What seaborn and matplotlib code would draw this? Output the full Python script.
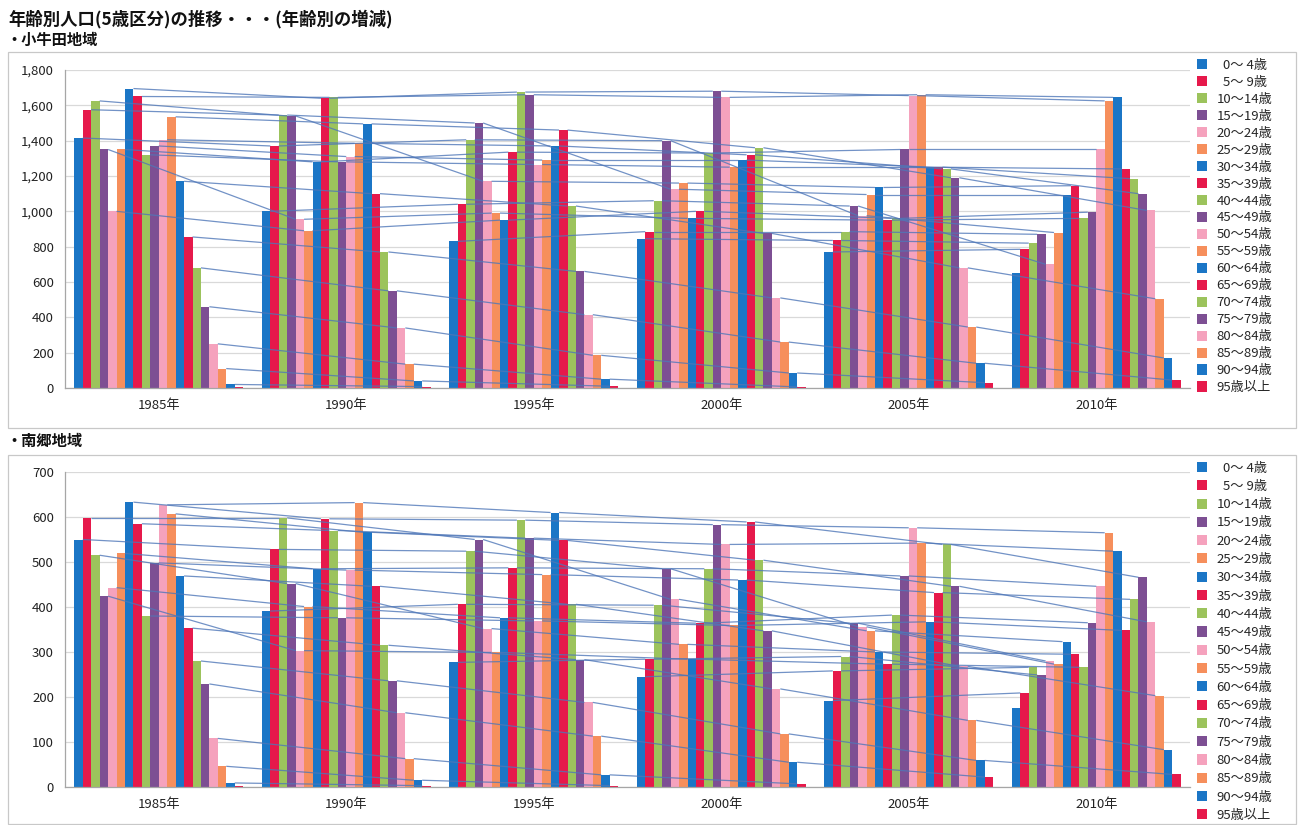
import matplotlib
matplotlib.use("Agg")
import matplotlib.pyplot as plt
from matplotlib.patches import Patch, Rectangle
from matplotlib.ticker import FuncFormatter, MultipleLocator
import pandas as pd
import seaborn as sns

# ---- data -------------------------------------------------------------
years = ["1985年", "1990年", "1995年", "2000年", "2005年", "2010年"]
age_groups = ["  0～ 4歳", "  5～ 9歳", "10～14歳", "15～19歳", "20～24歳",
              "25～29歳", "30～34歳", "35～39歳", "40～44歳", "45～49歳",
              "50～54歳", "55～59歳", "60～64歳", "65～69歳", "70～74歳",
              "75～79歳", "80～84歳", "85～89歳", "90～94歳", "95歳以上"]

# 小牛田地域 (population by 5-year age band)
kogota_1985 = [1415, 1575, 1625, 1350, 1000, 1350, 1695, 1650, 1320, 1370,
               1405, 1535, 1170, 855, 680, 460, 250, 110, 20, 4]
kogota_1990 = [1000, 1370, 1545, 1540, 955, 890, 1280, 1640, 1645, 1280,
               1310, 1385, 1495, 1100, 770, 550, 340, 135, 40, 8]
kogota_1995 = [830, 1040, 1405, 1500, 1170, 990, 950, 1335, 1675, 1660,
               1265, 1290, 1370, 1460, 1030, 660, 415, 185, 50, 10]
kogota_2000 = [845, 885, 1060, 1400, 1125, 1160, 960, 1000, 1330, 1680,
               1645, 1250, 1290, 1320, 1360, 875, 510, 260, 85, 6]
kogota_2005 = [770, 835, 885, 1030, 975, 1095, 1135, 950, 960, 1350,
               1655, 1660, 1250, 1250, 1240, 1190, 680, 345, 140, 30]
kogota_2010 = [650, 785, 820, 870, 700, 880, 1095, 1145, 960, 995,
               1350, 1625, 1645, 1240, 1185, 1100, 1005, 505, 170, 45]

# 南郷地域
nango_1985 = [550, 598, 515, 424, 443, 519, 633, 585, 380, 498,
              627, 607, 469, 353, 280, 229, 108, 46, 9, 2]
nango_1990 = [391, 528, 598, 452, 303, 401, 485, 596, 570, 376,
              482, 632, 566, 446, 315, 236, 165, 63, 15, 3]
nango_1995 = [277, 406, 524, 550, 352, 299, 376, 487, 593, 553,
              369, 472, 610, 548, 406, 283, 188, 113, 27, 3]
nango_2000 = [245, 284, 404, 485, 417, 317, 284, 364, 485, 583,
              539, 359, 460, 589, 504, 347, 218, 118, 55, 7]
nango_2005 = [192, 258, 290, 364, 356, 347, 300, 273, 382, 469,
              576, 542, 367, 432, 539, 446, 268, 148, 59, 22]
nango_2010 = [176, 209, 266, 249, 280, 273, 323, 295, 266, 365,
              446, 565, 524, 348, 417, 466, 367, 203, 83, 28]

kogota = [kogota_1985, kogota_1990, kogota_1995, kogota_2000, kogota_2005, kogota_2010]
nango = [nango_1985, nango_1990, nango_1995, nango_2000, nango_2005, nango_2010]

# ---- style ------------------------------------------------------------
sns.set_theme(style="white")
plt.rcParams["font.family"] = ["Noto Sans CJK JP", "DejaVu Sans"]

base_cycle = ["#1b76c6", "#e6194b", "#9cc35c", "#7d4f93", "#f5a2bd", "#f68f5c"]
colors = [base_cycle[i % len(base_cycle)] for i in range(len(age_groups))]
cohort_color = "#4f77b8"
grid_color = "#d9d9d9"
axis_color = "#a6a6a6"

W, H = 1303, 825
fig = plt.figure(figsize=(W / 100, H / 100), dpi=100)


def fig_box(x0, y0, x1, y1):
    """Pixel box (top-left origin) -> figure fraction rect."""
    return [x0 / W, 1 - y1 / H, (x1 - x0) / W, (y1 - y0) / H]


def draw_panel(ax, table, ymax, ystep, legend_top, legend_spacing):
    wide = pd.DataFrame(table, index=years, columns=age_groups)
    long = (wide.rename_axis("year").reset_index()
            .melt(id_vars="year", var_name="age", value_name="pop"))
    sns.barplot(data=long, x="year", y="pop", hue="age", order=years,
                hue_order=age_groups, palette=colors, saturation=1,
                width=0.9, legend=False, ax=ax, linewidth=0, zorder=2)

    # cohort lines: each age band joins the next band five years later
    bars = ax.containers
    for i in range(len(age_groups) - 1):
        for k in range(len(years) - 1):
            p0 = bars[i][k]
            p1 = bars[i + 1][k + 1]
            ax.plot([p0.get_x() + p0.get_width(), p1.get_x()],
                    [p0.get_height(), p1.get_height()],
                    color=cohort_color, lw=0.9, alpha=0.8, zorder=3,
                    solid_capstyle="butt")

    ax.set_xlim(-0.5, len(years) - 0.5)
    ax.set_ylim(0, ymax)
    ax.yaxis.set_major_locator(MultipleLocator(ystep))
    ax.yaxis.set_major_formatter(FuncFormatter(lambda v, _: f"{v:,.0f}"))
    ax.yaxis.grid(True, color=grid_color, lw=0.9)
    ax.set_axisbelow(True)
    ax.set_xlabel("")
    ax.set_ylabel("")
    ax.set_xticks(range(len(years)))
    ax.set_xticklabels(years)
    ax.set_xticks([k - 0.5 for k in range(len(years) + 1)], minor=True)
    ax.tick_params(axis="x", which="major", length=0, pad=8, labelsize=9.5,
                   colors="#222222")
    ax.tick_params(axis="x", which="minor", length=4, color=axis_color,
                   direction="out")
    ax.tick_params(axis="y", length=4, labelsize=9.5, pad=4,
                   colors=axis_color, labelcolor="#222222")
    for side in ("top", "right"):
        ax.spines[side].set_visible(False)
    for side in ("left", "bottom"):
        ax.spines[side].set_color(axis_color)
        ax.spines[side].set_linewidth(0.9)

    handles = [Patch(facecolor=c, edgecolor="none") for c in colors]
    ax.legend(handles, age_groups, loc="upper left",
              bbox_to_anchor=(1.006, legend_top), frameon=False, fontsize=9.5,
              handlelength=0.8, handleheight=0.8, handletextpad=0.7,
              labelspacing=legend_spacing, borderaxespad=0, borderpad=0)


# chart-area frames
for box in (fig_box(8, 52, 1296, 428), fig_box(8, 455, 1296, 824)):
    fig.patches.append(Rectangle((box[0], box[1]), box[2], box[3],
                                 transform=fig.transFigure, fill=False,
                                 edgecolor="#c8c8c8", lw=0.9))

ax_top = fig.add_axes(fig_box(65, 70, 1190, 388))
draw_panel(ax_top, kogota, 1800, 200, 1.035, 0.30)

ax_bot = fig.add_axes(fig_box(65, 472, 1190, 787))
draw_panel(ax_bot, nango, 700, 100, 1.033, 0.40)

fig.text(8 / W, 1 - 19 / H, "年齢別人口(5歳区分)の推移・・・(年齢別の増減)",
         fontsize=12.5, fontweight="bold", va="center", ha="left", color="#111111")
fig.text(6 / W, 1 - 40 / H, "・小牛田地域", fontsize=11, fontweight="bold",
         va="center", ha="left", color="#111111")
fig.text(6 / W, 1 - 441 / H, "・南郷地域", fontsize=11, fontweight="bold",
         va="center", ha="left", color="#111111")

fig.savefig("out.png", dpi=100)
